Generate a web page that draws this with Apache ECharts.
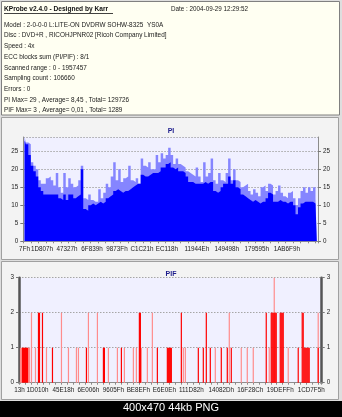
<!DOCTYPE html>
<html>
<head>
<meta charset="utf-8">
<script src="https://cdn.jsdelivr.net/npm/echarts@6/dist/echarts.min.js"></script>
<style>
html, body { margin: 0; padding: 0; background: #000; }
#c { width: 342px; height: 417px; }
</style>
</head>
<body>
<div id="c"></div>
<script>
// PI error counts per sampling column: short spikes (peak) and the dense fill (base)
const piPeak = [
  29, 27.5, 27, 22, 21, 20, 17, 16, 16, 17.5,
  18, 17, 15.5, 19, 15, 13.5, 19, 15, 17.5, 16,
  15, 15.5, 17, 21, 12, 11.5, 13, 11.5, 11, 11,
  14.5, 12, 13.5, 16, 15, 18, 22, 17,
  20, 16.5, 17.5, 18, 21, 17, 16.5, 17.5, 16, 23,
  21, 20.5, 22, 20, 20, 24, 22, 24.5, 23, 24,
  26, 24, 21.5, 23, 21.5, 21, 20.5, 19.5, 19, 18.5,
  18, 20.5, 18, 16.5, 22, 18, 19, 23, 17, 16,
  19, 17, 16.5, 19, 23, 17, 20, 17, 16.5, 15,
  15.5, 16, 14, 13, 14.5, 13.5, 12.5, 15, 15.5, 14,
  16, 15.5, 13, 14, 15.5, 13.5, 12.5, 12, 13.5, 14,
  12, 10, 12, 14, 15, 13.5, 15, 14, 15, 12
];
const piBase = [
  28, 27, 24, 21, 19.5, 18, 15, 14, 13, 13,
  13, 13, 13, 13, 12, 11.5, 13, 11.5, 13, 13,
  12, 12.5, 13, 20, 9, 8.5, 10, 10.5, 10, 10.5,
  11, 10.5, 11, 12, 12.5, 13, 14, 14.5,
  14, 13.5, 14, 14, 14.5, 15, 15.5, 16, 16, 18.5,
  18, 18, 18.5, 19, 19, 19, 19.5, 20.5, 20.5, 21.5,
  22, 20.5, 20, 20.5, 19.5, 19.5, 19, 18, 16.5, 16.5,
  16, 16, 16, 16, 16.5, 16, 16.5, 16.5, 14, 13.5,
  14, 15, 16, 16, 18, 16, 17, 15, 14.5, 13,
  12.5, 12, 11.5, 11, 11.5, 11, 10.5, 11, 11, 12,
  13.5, 13, 11, 11, 11.5, 11, 11, 10.5, 11, 11,
  10, 7.5, 9.5, 10.5, 11, 11, 11, 11, 10.5, 10.5
];
const piTickLabels = ['7Fh', '1D807h', '47327h', '6F839h', '9873Fh', 'C1C21h', 'EC118h', '11944Eh', '149498h', '179595h', '1AB6F9h'];
const piTickSlots = [0, 7, 17, 27, 37, 47, 57, 69, 81, 93, 105];

// PIF errors: [sample slot, count]; faint = thin hits, strong = dense hits
const pifSlotCount = 303;
const pifFaint = [
  [1, 1], [2, 1], [9, 1], [10, 1], [12, 2], [16, 1], [27, 1], [42, 2], [49, 1], [57, 1],
  [59, 1], [69, 2], [78, 2], [89, 1], [98, 1], [105, 1], [114, 1], [117, 1], [122, 1],
  [128, 1], [133, 2], [164, 1], [166, 1], [196, 1], [210, 2], [222, 1], [228, 1],
  [234, 1], [250, 1], [255, 3], [269, 1], [299, 2]
];
const pifStrong = [
  [3, 1], [4, 1], [5, 1], [6, 1], [7, 1], [8, 1], [19, 2], [20, 2], [23, 2], [33, 1],
  [67, 1], [84, 1], [85, 1], [102, 1], [120, 2], [121, 2], [138, 1], [148, 1], [149, 1],
  [150, 1], [151, 1], [152, 1], [162, 2], [179, 1], [184, 1], [187, 2], [191, 1],
  [202, 1], [208, 1], [212, 1], [247, 2], [252, 2], [253, 2], [254, 2], [255, 2],
  [256, 2], [257, 2], [261, 2], [262, 2], [263, 2], [264, 2], [279, 1], [283, 2],
  [284, 2], [285, 1], [286, 1], [287, 1], [288, 1], [289, 1], [290, 1], [299, 1]
];
const pifTickLabels = ['13h', '1D010h', '45E18h', '6E006h', '9605Fh', 'BE8EFh', 'E6E0Eh', '111D82h', '14082Dh', '16F28Ch', '19DEFFh', '1CD7F5h'];
const pifTickSlots = [0, 18, 44, 69, 94, 119, 145, 172, 202, 231, 261, 292];

const headerTitle = 'KProbe v2.4.0 - Designed by Karr';
const headerDate = 'Date : 2004-09-29 12:29:52';
const headerLines = [
  'Model : 2-0-0-0 L:LITE-ON DVDRW SOHW-8325  YS0A',
  'Disc : DVD+R , RICOHJPNR02 [Ricoh Company Limited]',
  'Speed : 4x',
  'ECC blocks sum (PI/PIF) : 8/1',
  'Scanned range : 0 - 1957457',
  'Sampling count : 106660',
  'Errors : 0',
  'PI Max= 29 , Average= 8,45 , Total= 129726',
  'PIF Max= 3 , Average= 0,01 , Total= 1289'
];
const captionText = '400x470 44kb PNG';

// ---- build series data ----
const piSlots = piPeak.map((_, i) => String(i));
const pifSlots = [];
for (let i = 0; i < pifSlotCount; i++) pifSlots.push(String(i));
function spread(pairs) {
  const arr = new Array(pifSlotCount).fill('-');
  pairs.forEach(([s, v]) => { arr[s] = v; });
  return arr;
}
const pifFaintData = spread(pifFaint);
const pifStrongData = spread(pifStrong);

const FONT = 'Liberation Sans';
const labelStyle = { fontFamily: FONT, fontSize: 6.3, color: '#222' };
const dotted = { color: '#a6a6a6', type: [1.5, 1.5], width: 1 };

function yAxisFor(grid, max, interval, pos, thick, split) {
  return {
    type: 'value', gridIndex: grid, min: 0, max: max, interval: interval, position: pos,
    axisLine: { show: true, lineStyle: { color: thick ? '#555' : '#8c8c8c', width: thick ? 2.5 : 1 } },
    axisTick: { show: true, length: 3, lineStyle: { color: '#777' } },
    axisLabel: Object.assign({ margin: 5, showMaxLabel: max === interval * Math.round(max / interval) }, labelStyle),
    splitLine: { show: split, lineStyle: dotted }
  };
}

function xAxisFor(grid, cats, slots, labels, tickEvery) {
  return {
    type: 'category', gridIndex: grid, data: cats, boundaryGap: true,
    axisLine: { show: true, lineStyle: { color: '#8c8c8c' } },
    axisTick: { show: true, length: 2, interval: (i) => i % tickEvery === 0, lineStyle: { color: '#888' } },
    axisLabel: Object.assign({
      margin: 5,
      interval: (i) => slots.indexOf(i) >= 0,
      formatter: (v, i) => { const k = slots.indexOf(i); return k >= 0 ? labels[k] : ''; }
    }, labelStyle),
    splitLine: { show: false }
  };
}

// PI columns are drawn as a filled step outline so neighbouring columns join seamlessly
function stepArea(name, data, color) {
  return {
    type: 'line', name: name, xAxisIndex: 0, yAxisIndex: 0, data: data,
    step: 'middle', showSymbol: false, symbol: 'none', silent: true,
    lineStyle: { width: 0, color: color },
    areaStyle: { color: color, opacity: 1 }
  };
}

const graphics = [
  { type: 'rect', z: -30, shape: { x: 0, y: 0, width: 342, height: 401 }, style: { fill: '#dedede' } },
  { type: 'rect', z: -20, shape: { x: 1.5, y: 1.5, width: 338, height: 113.5 }, style: { fill: '#fffff2', stroke: '#808080', lineWidth: 1 } },
  { type: 'rect', z: -20, shape: { x: 1.5, y: 117.5, width: 337, height: 142 }, style: { fill: '#f3f3f3', stroke: '#a0a0a0', lineWidth: 1 } },
  { type: 'rect', z: -20, shape: { x: 1.5, y: 261.5, width: 337, height: 138 }, style: { fill: '#f3f3f3', stroke: '#a0a0a0', lineWidth: 1 } },
  { type: 'rect', z: -20, shape: { x: 0, y: 401, width: 342, height: 16 }, style: { fill: '#000' } },
  { type: 'text', z: 50, style: { text: headerTitle, x: 4, y: 9.5, font: 'bold 6.6px "Liberation Sans"', fill: '#111', textVerticalAlign: 'middle', verticalAlign: 'middle' } },
  { type: 'line', z: 50, shape: { x1: 4, y1: 13.5, x2: 113, y2: 13.5 }, style: { stroke: '#111', lineWidth: 0.8 } },
  { type: 'text', z: 50, style: { text: headerDate, x: 171, y: 9.5, font: '6.3px "Liberation Sans"', fill: '#1a1a1a', textVerticalAlign: 'middle', verticalAlign: 'middle' } },
  { type: 'text', z: 50, style: { text: captionText, x: 171, y: 408, font: '11px "Liberation Sans"', fill: '#fff', textAlign: 'center', align: 'center', textVerticalAlign: 'middle', verticalAlign: 'middle' } }
];
headerLines.forEach((t, i) => {
  graphics.push({ type: 'text', z: 50, style: { text: t, x: 4, y: 25 + i * 10.7, font: '6.4px "Liberation Sans"', fill: '#1a1a1a', textVerticalAlign: 'middle', verticalAlign: 'middle' } });
});

const chart = echarts.init(document.getElementById('c'), null, { renderer: 'canvas' });
chart.setOption({
  animation: false,
  backgroundColor: '#000',
  title: [
    { text: 'PI', left: 'center', top: 123, textStyle: { fontFamily: FONT, fontSize: 7, fontWeight: 'bold', color: '#1c1c8c' } },
    { text: 'PIF', left: 'center', top: 266, textStyle: { fontFamily: FONT, fontSize: 7, fontWeight: 'bold', color: '#1c1c8c' } }
  ],
  graphic: { elements: graphics },
  grid: [
    { left: 23.3, right: 24, top: 137, height: 104.3, show: true, backgroundColor: '#f0f0ff', borderWidth: 0 },
    { left: 19, right: 20.3, top: 277.7, height: 105, show: true, backgroundColor: '#f0f0ff', borderWidth: 0 }
  ],
  xAxis: [
    xAxisFor(0, piSlots, piTickSlots, piTickLabels, 3),
    xAxisFor(1, pifSlots, pifTickSlots, pifTickLabels, 6)
  ],
  yAxis: [
    yAxisFor(0, 29, 5, 'left', false, true),
    yAxisFor(0, 29, 5, 'right', false, false),
    yAxisFor(1, 3, 1, 'left', true, true),
    yAxisFor(1, 3, 1, 'right', true, false)
  ],
  series: [
    stepArea('PI peak', piPeak, '#8585ff'),
    stepArea('PI', piBase, '#0000ff'),
    { type: 'bar', name: 'PIF thin', xAxisIndex: 1, yAxisIndex: 2, data: pifFaintData, barWidth: 1.2, barGap: '-100%',
      itemStyle: { color: '#ff8c8c' }, silent: true },
    { type: 'bar', name: 'PIF', xAxisIndex: 1, yAxisIndex: 2, data: pifStrongData, barWidth: 1.2, barGap: '-100%',
      itemStyle: { color: '#ff0000' }, silent: true }
  ]
});
</script>
</body>
</html>
